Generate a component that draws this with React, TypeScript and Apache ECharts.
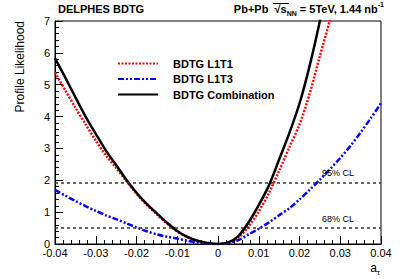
import React, { useEffect, useRef } from "react";
import * as echarts from "echarts";

const aTau = [
  -0.04, -0.0375, -0.035, -0.0325, -0.03, -0.0275, -0.025, -0.0225, -0.02, -0.0175, -0.015,
  -0.0125, -0.01, -0.0075, -0.005, -0.0025, 0, 0.0025, 0.005, 0.0075, 0.01, 0.0125, 0.015,
  0.0175, 0.02, 0.0225, 0.025, 0.0275, 0.03, 0.0325, 0.035, 0.0375, 0.04,
];
const bdtgL1T1 = [
  5.38, 4.83, 4.28, 3.76, 3.25, 2.78, 2.39, 1.98, 1.58, 1.23, 0.93, 0.64, 0.39, 0.21, 0.09, 0.02,
  0.0, 0.04, 0.2, 0.55, 1.02, 1.6, 2.3, 3.03, 3.75, 4.72, 5.9, 7.05, 8.4, null, null, null, null,
];
const bdtgL1T3 = [
  1.7, 1.52, 1.35, 1.19, 1.04, 0.9, 0.78, 0.65, 0.52, 0.4, 0.3, 0.23, 0.17, 0.1, 0.05, 0.01,
  0.0, 0.03, 0.12, 0.3, 0.48, 0.68, 0.9, 1.12, 1.4, 1.7, 2.02, 2.35, 2.7, 3.08, 3.5, 3.95, 4.42,
];
const bdtgComb = [
  5.83, 5.23, 4.61, 4.0, 3.46, 2.93, 2.48, 2.02, 1.61, 1.26, 0.96, 0.67, 0.41, 0.22, 0.1, 0.03,
  0.0, 0.05, 0.25, 0.68, 1.22, 1.84, 2.65, 3.48, 4.41, 5.6, 7.0, 8.6, null, null, null, null, null,
];
const seriesNames = ["BDTG L1T1", "BDTG L1T3", "BDTG Combination"];
const clLevels = [1.92, 0.5];
const clLabels = ["95% CL", "68% CL"];
const xTicks = { min: -0.04, max: 0.04, interval: 0.01 };
const yTicks = { min: 0, max: 7, interval: 1 };

const FONT = "'Liberation Sans', Arial, Helvetica, sans-serif";

function pairs(ys: (number | null)[]) {
  return aTau.map((x, i) => [x, ys[i]]).filter((p) => p[1] !== null);
}

export default function App() {
  const ref = useRef<HTMLDivElement>(null);
  useEffect(() => {
    document.body.style.margin = "0";
    if (!ref.current) return;
    const chart = echarts.init(ref.current, undefined, { renderer: "svg" });
    const fmtX = (v: number) => {
      if (Math.abs(v) < 1e-9) return "0";
      return v.toFixed(2);
    };
    chart.setOption({
      animation: false,
      textStyle: { fontFamily: FONT },
      grid: {
        left: 55,
        right: 26,
        top: 21,
        bottom: 35,
        show: true,
        borderColor: "#000",
        borderWidth: 1,
        backgroundColor: "transparent",
      },
      legend: {
        orient: "vertical",
        left: 117,
        top: 58,
        padding: 0,
        itemWidth: 40,
        itemHeight: 12,
        itemGap: 4.5,
        data: seriesNames,
        itemStyle: { opacity: 0 },
        textStyle: {
          fontFamily: FONT,
          fontSize: 11,
          fontWeight: "bold",
          color: "#000",
          padding: [0, 0, 0, 10],
        },
      },
      xAxis: {
        type: "value",
        min: xTicks.min,
        max: xTicks.max,
        interval: xTicks.interval,
        axisLine: { onZero: false, lineStyle: { color: "#000", width: 1 } },
        axisTick: { inside: true, length: 8, lineStyle: { color: "#000" } },
        minorTick: { show: true, splitNumber: 5, length: 4, lineStyle: { color: "#000" } },
        splitLine: { show: false },
        axisLabel: {
          formatter: fmtX,
          fontFamily: FONT,
          fontSize: 11,
          color: "#000",
          margin: 3,
          showMinLabel: true,
          showMaxLabel: true,
        },
      },
      yAxis: {
        type: "value",
        min: yTicks.min,
        max: yTicks.max,
        interval: yTicks.interval,
        axisLine: { onZero: false, lineStyle: { color: "#000", width: 1 } },
        axisTick: { inside: true, length: 8, lineStyle: { color: "#000" } },
        minorTick: { show: true, splitNumber: 5, length: 4, lineStyle: { color: "#000" } },
        splitLine: { show: false },
        axisLabel: { fontFamily: FONT, fontSize: 11, color: "#000", margin: 5 },
      },
      graphic: [
        {
          type: "text",
          left: 58,
          top: 3,
          style: {
            text: "DELPHES BDTG",
            font: `bold 11px ${FONT}`,
            fill: "#000",
          },
        },
        {
          type: "text",
          right: 23,
          top: 1,
          style: {
            text: "{b|Pb+Pb  √}{b|s}{sub|NN}{b| = 5TeV, 1.44 nb}{sup|-1}",
            rich: {
              b: { font: `bold 11px ${FONT}`, fill: "#000", lineHeight: 16, verticalAlign: "middle" },
              sub: { font: `bold 7px ${FONT}`, fill: "#000", lineHeight: 16, verticalAlign: "bottom" },
              sup: { font: `bold 7px ${FONT}`, fill: "#000", lineHeight: 16, verticalAlign: "top" },
            },
          },
        },
        {
          type: "line",
          shape: { x1: 273, y1: 3.5, x2: 289, y2: 3.5 },
          style: { stroke: "#000", lineWidth: 1 },
        },
        {
          type: "text",
          x: 20,
          y: 21,
          rotation: Math.PI / 2,
          style: {
            text: "Profile Likelihood",
            font: `12px ${FONT}`,
            fill: "#000",
            align: "right",
            verticalAlign: "middle",
          },
        },
        {
          type: "text",
          right: 27,
          top: 262,
          style: {
            text: "{a|a}{s|τ}",
            rich: {
              a: { font: `12px ${FONT}`, fill: "#000", lineHeight: 16, verticalAlign: "middle" },
              s: { font: `8px ${FONT}`, fill: "#000", lineHeight: 16, verticalAlign: "bottom" },
            },
          },
        },
      ],
      series: [
        {
          name: seriesNames[0],
          type: "line",
          data: pairs(bdtgL1T1),
          smooth: 0.3,
          showSymbol: false,
          symbol: "none",
          color: "#ff0000",
          lineStyle: { color: "#ff0000", width: 2.5, type: [2, 1.5] },
          z: 3,
          markLine: {
            silent: true,
            symbol: "none",
            lineStyle: { color: "#333", width: 1.5, type: [3, 3] },
            label: {
              show: true,
              position: "insideEndTop",
              fontFamily: FONT,
              fontSize: 9,
              color: "#000",
              padding: [0, 22, 0, 0],
              formatter: (p: any) => p.name,
            },
            data: clLevels.map((v, i) => [
              { name: clLabels[i], coord: [xTicks.min, v] },
              { coord: [xTicks.max, v] },
            ]),
          },
        },
        {
          name: seriesNames[1],
          type: "line",
          data: pairs(bdtgL1T3),
          smooth: 0.3,
          showSymbol: false,
          symbol: "none",
          color: "#0000ff",
          lineStyle: { color: "#0000ff", width: 2.5, type: [6, 2, 2, 2, 2, 2] },
          z: 3,
        },
        {
          name: seriesNames[2],
          type: "line",
          data: pairs(bdtgComb),
          smooth: 0.3,
          showSymbol: false,
          symbol: "none",
          color: "#000",
          lineStyle: { color: "#000", width: 2.5, type: "solid" },
          z: 4,
        },
      ],
    });
    return () => chart.dispose();
  }, []);
  return <div ref={ref} style={{ width: 407, height: 279 }} />;
}
